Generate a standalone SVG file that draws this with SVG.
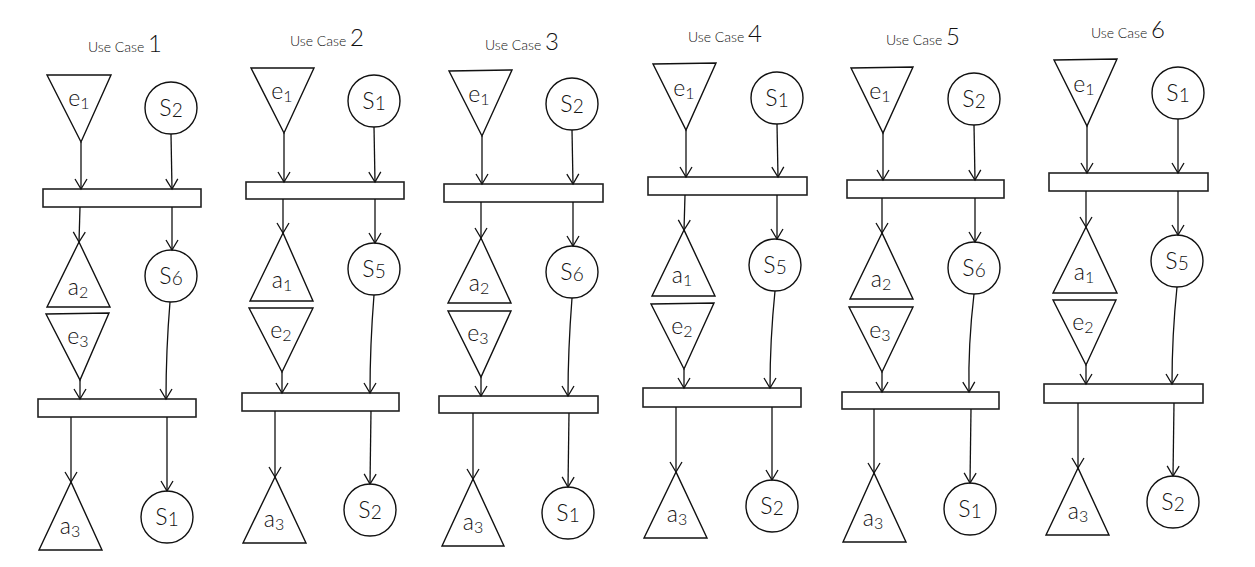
<svg xmlns="http://www.w3.org/2000/svg" width="1255" height="567" viewBox="0 0 1255 567">
  <style>
    .shape { fill: #ffffff; stroke: #111111; stroke-width: 1.4; stroke-linejoin: miter; }
    .bar { fill: #ffffff; stroke: #222222; stroke-width: 1.6; }
    .edge { fill: none; stroke: #111111; stroke-width: 1.3; marker-end: url(#arrow); }
    text { font-family: "Lato", "DejaVu Sans", "Liberation Sans", sans-serif; font-weight: 300; fill: #111111; text-anchor: middle; }
    .title { font-size: 14px; }
    .num { font-size: 24px; }
    .lbl { font-size: 23px; }
    .sl { font-size: 23px; }
    .sub { font-size: 16px; }
    .ssub { font-size: 19px; }
  </style>
  <defs>
    <marker id="arrow" markerUnits="userSpaceOnUse" markerWidth="14" markerHeight="14" refX="0" refY="0" viewBox="-12 -7 14 14" orient="auto" overflow="visible">
      <path d="M-10,-6 L0,0 L-10,6" fill="none" stroke="#111111" stroke-width="1.3"/>
    </marker>
  </defs>

  <!-- Use Case 1 -->
  <g id="uc1">
    <text class="title" x="125" y="52">Use Case <tspan class="num">1</tspan></text>
    <g id="uc1-e1"><polygon class="shape" points="47,75 111,75 81,142"/><text class="lbl" x="79" y="106">e<tspan class="sub" dy="3">1</tspan></text></g>
    <g id="uc1-s2"><circle class="shape" cx="171" cy="108" r="26"/><text class="sl" x="171" y="116">S<tspan class="ssub" dy="1">2</tspan></text></g>
    <g id="uc1-bar1"><rect class="bar" x="43" y="189" width="158" height="18"/></g>
    <g id="uc1-a2"><polygon class="shape" points="79,242 47,307 110,307"/><text class="lbl" x="78" y="295">a<tspan class="sub" dy="3">2</tspan></text></g>
    <g id="uc1-s6"><circle class="shape" cx="171" cy="276" r="26"/><text class="sl" x="171" y="284">S<tspan class="ssub" dy="1">6</tspan></text></g>
    <g id="uc1-e3"><polygon class="shape" points="46,314 109,313 80,380"/><text class="lbl" x="78" y="344">e<tspan class="sub" dy="3">3</tspan></text></g>
    <g id="uc1-bar2"><rect class="bar" x="38" y="399" width="158" height="18"/></g>
    <g id="uc1-a3"><polygon class="shape" points="71,482 39,550 102,550"/><text class="lbl" x="70" y="534">a<tspan class="sub" dy="3">3</tspan></text></g>
    <g id="uc1-s1"><circle class="shape" cx="167" cy="517" r="26"/><text class="sl" x="167" y="525">S<tspan class="ssub" dy="1">1</tspan></text></g>
  </g>

  <!-- Use Case 2 -->
  <g id="uc2">
    <text class="title" x="327" y="46">Use Case <tspan class="num">2</tspan></text>
    <g id="uc2-e1"><polygon class="shape" points="251,68 314,68 284,133"/><text class="lbl" x="282" y="99">e<tspan class="sub" dy="3">1</tspan></text></g>
    <g id="uc2-s1"><circle class="shape" cx="374" cy="101" r="26"/><text class="sl" x="374" y="109">S<tspan class="ssub" dy="1">1</tspan></text></g>
    <g id="uc2-bar1"><rect class="bar" x="246" y="182" width="158" height="17"/></g>
    <g id="uc2-a1"><polygon class="shape" points="283,233 250,301 313,301"/><text class="lbl" x="282" y="288">a<tspan class="sub" dy="3">1</tspan></text></g>
    <g id="uc2-s5"><circle class="shape" cx="374" cy="269" r="26"/><text class="sl" x="374" y="277">S<tspan class="ssub" dy="1">5</tspan></text></g>
    <g id="uc2-e2"><polygon class="shape" points="249,308 313,308 282,372"/><text class="lbl" x="281" y="338">e<tspan class="sub" dy="3">2</tspan></text></g>
    <g id="uc2-bar2"><rect class="bar" x="242" y="393" width="157" height="18"/></g>
    <g id="uc2-a3"><polygon class="shape" points="275,477 243,543 306,543"/><text class="lbl" x="274" y="527">a<tspan class="sub" dy="3">3</tspan></text></g>
    <g id="uc2-s2"><circle class="shape" cx="370" cy="510" r="26"/><text class="sl" x="370" y="518">S<tspan class="ssub" dy="1">2</tspan></text></g>
  </g>

  <!-- Use Case 3 -->
  <g id="uc3">
    <text class="title" x="522" y="50">Use Case <tspan class="num">3</tspan></text>
    <g id="uc3-e1"><polygon class="shape" points="449,71 512,70 482,136"/><text class="lbl" x="479" y="102">e<tspan class="sub" dy="3">1</tspan></text></g>
    <g id="uc3-s2"><circle class="shape" cx="572" cy="104" r="26"/><text class="sl" x="572" y="112">S<tspan class="ssub" dy="1">2</tspan></text></g>
    <g id="uc3-bar1"><rect class="bar" x="444" y="184" width="159" height="18"/></g>
    <g id="uc3-a2"><polygon class="shape" points="481,238 448,303 511,303"/><text class="lbl" x="479" y="291">a<tspan class="sub" dy="3">2</tspan></text></g>
    <g id="uc3-s6"><circle class="shape" cx="572" cy="272" r="26"/><text class="sl" x="572" y="280">S<tspan class="ssub" dy="1">6</tspan></text></g>
    <g id="uc3-e3"><polygon class="shape" points="448,311 511,311 481,377"/><text class="lbl" x="478" y="341">e<tspan class="sub" dy="3">3</tspan></text></g>
    <g id="uc3-bar2"><rect class="bar" x="439" y="396" width="159" height="17"/></g>
    <g id="uc3-a3"><polygon class="shape" points="473,479 442,546 504,546"/><text class="lbl" x="473" y="530">a<tspan class="sub" dy="3">3</tspan></text></g>
    <g id="uc3-s1"><circle class="shape" cx="568" cy="513" r="26"/><text class="sl" x="568" y="521">S<tspan class="ssub" dy="1">1</tspan></text></g>
  </g>

  <!-- Use Case 4 -->
  <g id="uc4">
    <text class="title" x="725" y="42">Use Case <tspan class="num">4</tspan></text>
    <g id="uc4-e1"><polygon class="shape" points="653,64 716,63 686,130"/><text class="lbl" x="684" y="96">e<tspan class="sub" dy="3">1</tspan></text></g>
    <g id="uc4-s1"><circle class="shape" cx="777" cy="98" r="26"/><text class="sl" x="777" y="106">S<tspan class="ssub" dy="1">1</tspan></text></g>
    <g id="uc4-bar1"><rect class="bar" x="648" y="177" width="159" height="18"/></g>
    <g id="uc4-a1"><polygon class="shape" points="684,230 652,296 715,296"/><text class="lbl" x="682" y="283">a<tspan class="sub" dy="3">1</tspan></text></g>
    <g id="uc4-s5"><circle class="shape" cx="775" cy="265" r="26"/><text class="sl" x="775" y="273">S<tspan class="ssub" dy="1">5</tspan></text></g>
    <g id="uc4-e2"><polygon class="shape" points="651,304 714,303 684,369"/><text class="lbl" x="682" y="334">e<tspan class="sub" dy="3">2</tspan></text></g>
    <g id="uc4-bar2"><rect class="bar" x="643" y="388" width="158" height="19"/></g>
    <g id="uc4-a3"><polygon class="shape" points="676,472 644,538 707,538"/><text class="lbl" x="677" y="522">a<tspan class="sub" dy="3">3</tspan></text></g>
    <g id="uc4-s2"><circle class="shape" cx="772" cy="506" r="26"/><text class="sl" x="772" y="514">S<tspan class="ssub" dy="1">2</tspan></text></g>
  </g>

  <!-- Use Case 5 -->
  <g id="uc5">
    <text class="title" x="923" y="45">Use Case <tspan class="num">5</tspan></text>
    <g id="uc5-e1"><polygon class="shape" points="851,68 913,67 883,133"/><text class="lbl" x="880" y="99">e<tspan class="sub" dy="3">1</tspan></text></g>
    <g id="uc5-s2"><circle class="shape" cx="974" cy="99" r="26"/><text class="sl" x="974" y="107">S<tspan class="ssub" dy="1">2</tspan></text></g>
    <g id="uc5-bar1"><rect class="bar" x="847" y="180" width="157" height="18"/></g>
    <g id="uc5-a2"><polygon class="shape" points="882,233 850,299 913,299"/><text class="lbl" x="881" y="287">a<tspan class="sub" dy="3">2</tspan></text></g>
    <g id="uc5-s6"><circle class="shape" cx="974" cy="268" r="26"/><text class="sl" x="974" y="276">S<tspan class="ssub" dy="1">6</tspan></text></g>
    <g id="uc5-e3"><polygon class="shape" points="849,307 913,307 882,372"/><text class="lbl" x="880" y="338">e<tspan class="sub" dy="3">3</tspan></text></g>
    <g id="uc5-bar2"><rect class="bar" x="842" y="392" width="157" height="17"/></g>
    <g id="uc5-a3"><polygon class="shape" points="874,473 843,542 906,542"/><text class="lbl" x="873" y="526">a<tspan class="sub" dy="3">3</tspan></text></g>
    <g id="uc5-s1"><circle class="shape" cx="970" cy="509" r="26"/><text class="sl" x="970" y="517">S<tspan class="ssub" dy="1">1</tspan></text></g>
  </g>

  <!-- Use Case 6 -->
  <g id="uc6">
    <text class="title" x="1128" y="38">Use Case <tspan class="num">6</tspan></text>
    <g id="uc6-e1"><polygon class="shape" points="1054,60 1117,59 1087,126"/><text class="lbl" x="1084" y="92">e<tspan class="sub" dy="3">1</tspan></text></g>
    <g id="uc6-s1"><circle class="shape" cx="1178" cy="93" r="26"/><text class="sl" x="1178" y="101">S<tspan class="ssub" dy="1">1</tspan></text></g>
    <g id="uc6-bar1"><rect class="bar" x="1049" y="173" width="159" height="18"/></g>
    <g id="uc6-a1"><polygon class="shape" points="1086,227 1053,293 1117,293"/><text class="lbl" x="1084" y="280">a<tspan class="sub" dy="3">1</tspan></text></g>
    <g id="uc6-s5"><circle class="shape" cx="1177" cy="261" r="26"/><text class="sl" x="1177" y="269">S<tspan class="ssub" dy="1">5</tspan></text></g>
    <g id="uc6-e2"><polygon class="shape" points="1053,300 1116,300 1086,365"/><text class="lbl" x="1083" y="330">e<tspan class="sub" dy="3">2</tspan></text></g>
    <g id="uc6-bar2"><rect class="bar" x="1044" y="384" width="159" height="19"/></g>
    <g id="uc6-a3"><polygon class="shape" points="1078,468 1046,535 1109,535"/><text class="lbl" x="1078" y="519">a<tspan class="sub" dy="3">3</tspan></text></g>
    <g id="uc6-s2"><circle class="shape" cx="1173" cy="502" r="26"/><text class="sl" x="1173" y="510">S<tspan class="ssub" dy="1">2</tspan></text></g>
  </g>

  <!-- connectors -->
  <g id="connectors">
    <path class="edge" d="M81,142 L81,189"/>
    <path class="edge" d="M171,134 L172,189"/>
    <path class="edge" d="M80,207 L79,242"/>
    <path class="edge" d="M172,207 L172,250"/>
    <path class="edge" d="M80,380 L80,399"/>
    <path class="edge" d="M170,302 Q166,350 166,399"/>
    <path class="edge" d="M71,417 L71,482"/>
    <path class="edge" d="M167,417 L167,491"/>

    <path class="edge" d="M284,133 L284,182"/>
    <path class="edge" d="M374,127 L375,182"/>
    <path class="edge" d="M283,199 L283,233"/>
    <path class="edge" d="M375,199 L375,243"/>
    <path class="edge" d="M282,372 L282,393"/>
    <path class="edge" d="M374,295 Q370,345 370,393"/>
    <path class="edge" d="M275,411 L275,477"/>
    <path class="edge" d="M371,411 L370,484"/>

    <path class="edge" d="M482,136 L482,184"/>
    <path class="edge" d="M572,130 L573,184"/>
    <path class="edge" d="M481,202 L481,238"/>
    <path class="edge" d="M573,202 L573,246"/>
    <path class="edge" d="M481,377 L481,396"/>
    <path class="edge" d="M572,298 Q568,350 568,396"/>
    <path class="edge" d="M473,413 L473,479"/>
    <path class="edge" d="M569,413 L568,487"/>

    <path class="edge" d="M686,130 L686,177"/>
    <path class="edge" d="M777,124 L778,177"/>
    <path class="edge" d="M685,195 L684,230"/>
    <path class="edge" d="M777,195 L777,239"/>
    <path class="edge" d="M684,369 L684,388"/>
    <path class="edge" d="M775,291 Q770,340 770,388"/>
    <path class="edge" d="M676,407 L676,472"/>
    <path class="edge" d="M772,407 L772,480"/>

    <path class="edge" d="M883,133 L883,180"/>
    <path class="edge" d="M974,125 L975,180"/>
    <path class="edge" d="M882,198 L882,233"/>
    <path class="edge" d="M975,198 L975,242"/>
    <path class="edge" d="M882,372 L882,392"/>
    <path class="edge" d="M974,294 Q968,345 969,392"/>
    <path class="edge" d="M874,409 L874,473"/>
    <path class="edge" d="M971,409 L970,483"/>

    <path class="edge" d="M1087,126 L1087,173"/>
    <path class="edge" d="M1178,119 L1178,173"/>
    <path class="edge" d="M1086,191 L1086,227"/>
    <path class="edge" d="M1178,191 L1178,235"/>
    <path class="edge" d="M1086,365 L1086,384"/>
    <path class="edge" d="M1177,287 Q1172,335 1172,384"/>
    <path class="edge" d="M1078,403 L1078,468"/>
    <path class="edge" d="M1174,403 L1173,476"/>
  </g>
</svg>
